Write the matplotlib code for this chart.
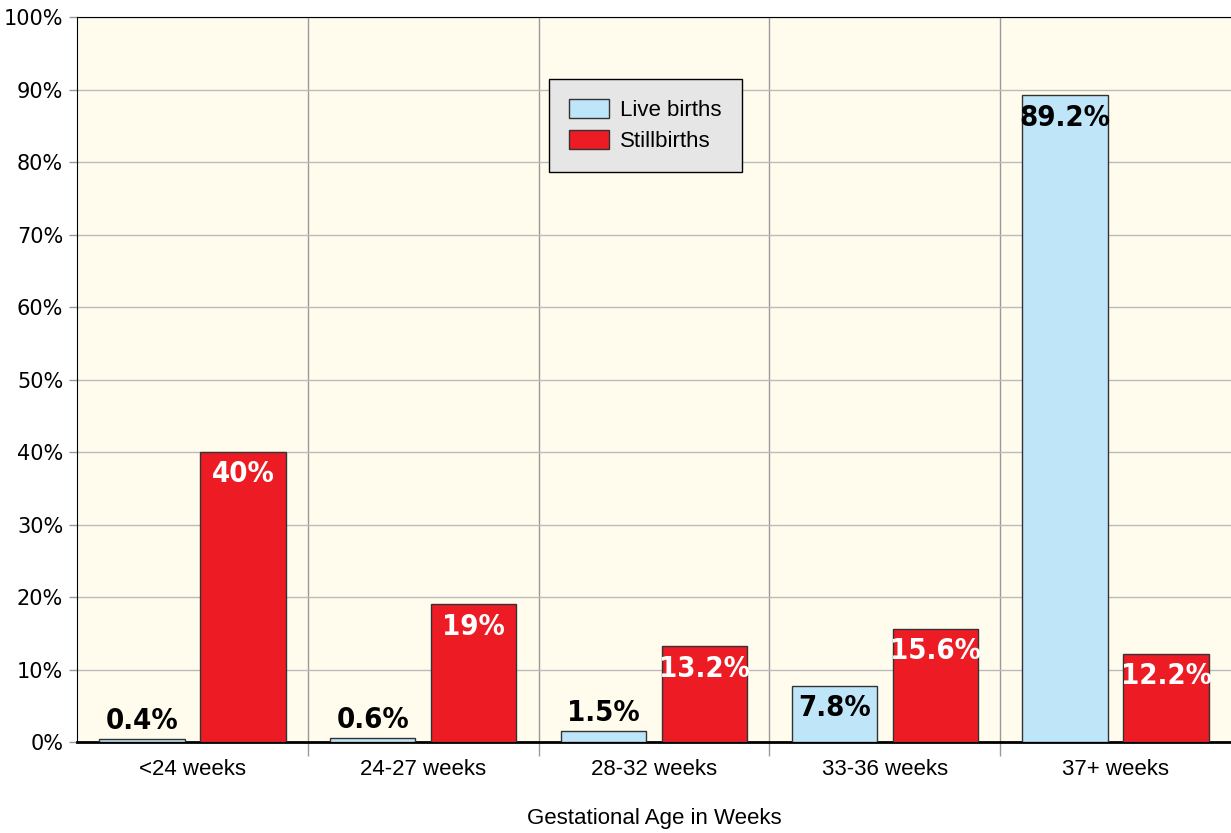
import matplotlib.pyplot as plt
import numpy as np

categories = ['<24 weeks', '24-27 weeks', '28-32 weeks', '33-36 weeks', '37+ weeks']
live_births = [0.4, 0.6, 1.5, 7.8, 89.2]
stillbirths = [40, 19, 13.2, 15.6, 12.2]
live_labels = ['0.4%', '0.6%', '1.5%', '7.8%', '89.2%']
still_labels = ['40%', '19%', '13.2%', '15.6%', '12.2%']

blue = '#bee6f8'
red = '#ed1c24'

fig = plt.figure(figsize=(12.31, 8.33), dpi=100)
ax = fig.add_axes([0.0626, 0.109, 0.9374, 0.8705])
ax.set_facecolor('#fffcee')

x = np.arange(len(categories))
w = 0.37
off = 0.219
b1 = ax.bar(x - off, live_births, w, color=blue, edgecolor='#333333', linewidth=1, label='Live births', zorder=3)
b2 = ax.bar(x + off, stillbirths, w, color=red, edgecolor='#333333', linewidth=1, label='Stillbirths', zorder=3)

lab_font = dict(family='DejaVu Sans', fontstretch='condensed', fontsize=21, fontweight='bold')
for rect, v, t in zip(b1, live_births, live_labels):
    cx = rect.get_x() + rect.get_width() / 2
    if v > 5:
        ax.annotate(t, (cx, v), xytext=(0, -16), textcoords='offset points',
                    ha='center', va='center', color='black', zorder=4, **lab_font)
    else:
        ax.annotate(t, (cx, v), xytext=(0, 13), textcoords='offset points',
                    ha='center', va='center', color='black', zorder=4, **lab_font)
for rect, v, t in zip(b2, stillbirths, still_labels):
    cx = rect.get_x() + rect.get_width() / 2
    ax.annotate(t, (cx, v), xytext=(0, -16), textcoords='offset points',
                ha='center', va='center', color='white', zorder=4, **lab_font)

ax.set_xlim(-0.5, len(categories) - 0.5)
ax.set_ylim(0, 100)
ax.set_yticks(np.arange(0, 101, 10))
ax.set_yticklabels([f'{v}%' for v in range(0, 101, 10)], fontsize=15)
ax.set_xticks(x)
ax.set_xticklabels(categories, fontsize=16, family='Liberation Sans')
ax.set_xticks(np.arange(0.5, len(categories) - 1, 1), minor=True)
ax.tick_params(axis='x', which='major', length=0, pad=12)
ax.tick_params(axis='x', which='minor', length=10, color='#999999', width=1)
ax.tick_params(axis='y', length=6, color='#999999', width=1, pad=4)

ax.grid(axis='y', color='#bbbbbb', linewidth=1, zorder=0)
ax.grid(axis='x', which='minor', color='#999999', linewidth=1, zorder=0)
ax.set_axisbelow(True)

ax.spines['right'].set_visible(False)
ax.spines['top'].set_color('black')
ax.spines['left'].set_color('black')
ax.spines['bottom'].set_linewidth(2)

ax.set_xlabel('Gestational Age in Weeks', fontsize=16, family='Liberation Sans', labelpad=20)

leg = ax.legend(loc='upper left', bbox_to_anchor=(0.409, 0.914),
                prop={'family': 'Liberation Sans', 'size': 16}, borderaxespad=0,
                fancybox=False, framealpha=1, facecolor='#e6e6e6', edgecolor='black',
                borderpad=0.9, handlelength=1.8, handleheight=0.9, labelspacing=0.4,
                handletextpad=0.5)
leg.get_frame().set_linewidth(1)

fig.savefig('out.png', dpi=100)
